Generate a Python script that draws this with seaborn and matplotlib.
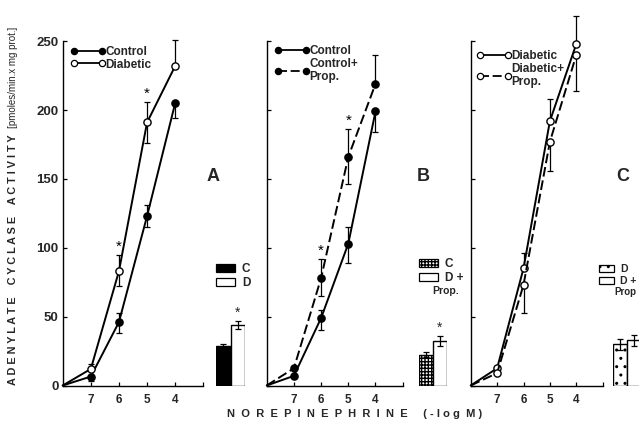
import numpy as np
import pandas as pd
import matplotlib
matplotlib.use("Agg")
import matplotlib.pyplot as plt
from matplotlib.lines import Line2D
from matplotlib.patches import Patch
import seaborn as sns

# ---------------- data ----------------
log_conc = [8, 7, 6, 5, 4]          # -log M ; 8 = no agonist (origin)
x_ticks = [7, 6, 5, 4, 3]
x_ticklabels = ["7", "6", "5", "4", ""]
y_ticks = [0, 50, 100, 150, 200, 250]

# Panel A
a_control = [0, 6.5, 46, 123, 205]
a_control_hi = [0, 0, 6.5, 8, 0]
a_control_lo = [0, 3, 8, 8, 11]
a_diabetic = [0, 12, 83, 191, 232]
a_diabetic_hi = [0, 3.5, 12, 15, 19]
a_diabetic_lo = [0, 0, 11, 15, 0]
a_sig = [False, False, True, True, False]

# Panel B
b_control = [0, 7, 49, 103, 199]
b_control_hi = [0, 0, 6, 12, 0]
b_control_lo = [0, 0, 9, 14, 15]
b_cprop = [0, 12.5, 78, 166, 219]
b_cprop_hi = [0, 0, 14, 20, 21]
b_cprop_lo = [0, 0, 13, 20, 0]
b_sig = [False, False, True, True, False]

# Panel C
c_diabetic = [0, 12.5, 85, 192, 248]
c_diabetic_hi = [0, 0, 11, 16, 20]
c_diabetic_lo = [0, 0, 0, 0, 0]
c_dprop = [0, 9, 73, 177, 240]
c_dprop_hi = [0, 0, 0, 0, 0]
c_dprop_lo = [0, 0, 20, 21, 26]

# Basal activity bars
a_bar_cats = ["C", "D"]
a_bar_vals = [29, 44]
a_bar_err = [1, 3]
a_bar_sig = [False, True]
b_bar_cats = ["C", "D +"]
b_bar_vals = [22.5, 32.5]
b_bar_err = [1.5, 3.5]
b_bar_sig = [False, True]
c_bar_cats = ["D", "D +"]
c_bar_vals = [30, 33]
c_bar_err = [4, 4]
c_bar_sig = [False, False]

# ---------------- style ----------------
sns.set_style("ticks")
plt.rcParams["font.family"] = ["Liberation Sans", "DejaVu Sans"]
plt.rcParams["hatch.linewidth"] = 1.0

W, H = 639, 422
fig = plt.figure(figsize=(W / 100, H / 100), dpi=100)
fig.patch.set_facecolor("white")

Y0, YTOP = 385.5, 41.2


def rect(left_px, right_px):
    return [left_px / W, 1 - Y0 / H, (right_px - left_px) / W, (Y0 - YTOP) / H]


DASH = (0, (5, 2))


def draw_series(ax, y, lo, hi, filled, dashed):
    xs = np.array(log_conc, dtype=float)
    ys = np.array(y, dtype=float)
    sns.lineplot(x=xs, y=ys, ax=ax, sort=False, color="black", lw=1.4,
                 linestyle=DASH if dashed else "-",
                 marker="o", markevery=[1, 2, 3, 4], markersize=5.2,
                 markerfacecolor="black" if filled else "white",
                 markeredgecolor="black", markeredgewidth=1.0,
                 clip_on=False, zorder=3)
    lo = np.array(lo, dtype=float)
    hi = np.array(hi, dtype=float)
    m = hi > 0
    if m.any():
        ax.errorbar(xs[m], ys[m], yerr=[np.zeros(m.sum()), hi[m]], fmt="none",
                    ecolor="black", elinewidth=0.9, capsize=2.5, capthick=0.9,
                    clip_on=False, zorder=1)
    m = lo > 0
    if m.any():
        ax.errorbar(xs[m], ys[m], yerr=[lo[m], np.zeros(m.sum())], fmt="none",
                    ecolor="black", elinewidth=0.9, capsize=2.5, capthick=0.9,
                    clip_on=False, zorder=1)


def draw_sig(ax, y, hi, sig):
    for xv, yv, h, s in zip(log_conc, y, hi, sig):
        if s:
            ax.text(xv, yv + h + 1, "*", ha="center", va="bottom",
                    fontsize=11, color="black")


def style_axes(ax, show_ylabels):
    ax.set_xlim(8, 3)
    ax.set_ylim(0, 250)
    ax.set_xticks(x_ticks)
    ax.set_xticklabels(x_ticklabels, fontsize=8.5, fontweight="bold")
    ax.set_yticks(y_ticks)
    if show_ylabels:
        ax.set_yticklabels([str(v) for v in y_ticks], fontsize=9.5, fontweight="bold")
    else:
        ax.set_yticklabels([])
    ax.tick_params(axis="both", direction="in", length=3, width=0.9, color="black")
    ax.tick_params(axis="x", pad=6)
    ax.tick_params(axis="y", pad=3)
    for s in ["top", "right"]:
        ax.spines[s].set_visible(False)
    for s in ["left", "bottom"]:
        ax.spines[s].set_linewidth(1.0)
        ax.spines[s].set_color("black")
    ax.set_facecolor("white")
    ax.set_xlabel("")
    ax.set_ylabel("")


def line_legend(ax, specs, labels, x_px, y_px):
    handles = []
    for filled, dashed in specs:
        handles.append(Line2D([0], [0], color="black", lw=1.3,
                              linestyle=DASH if dashed else "-", marker="o",
                              markersize=4.5, markeredgewidth=0.9,
                              markerfacecolor="black" if filled else "white",
                              markeredgecolor="black"))
    leg = ax.legend(handles, labels, numpoints=2, frameon=False,
                    loc="upper left", bbox_to_anchor=(x_px / W, 1 - y_px / H),
                    bbox_transform=fig.transFigure, handlelength=3.0,
                    handletextpad=0.0, labelspacing=0.05, borderpad=0,
                    borderaxespad=0,
                    prop={"size": 8.5, "weight": "bold"})
    return leg


def draw_bars(left_px, right_px, cats, vals, errs, sig, faces, hatches):
    bax = fig.add_axes(rect(left_px, right_px))
    df = pd.DataFrame({"cat": cats, "val": vals})
    sns.barplot(data=df, x="cat", y="val", hue="cat", palette=faces,
                legend=False, width=1.0, edgecolor="black", linewidth=1.0,
                saturation=1, ax=bax, errorbar=None)
    for p, h in zip(bax.patches, hatches):
        p.set_hatch(h)
    bax.errorbar([0, 1], vals, yerr=errs, fmt="none", ecolor="black",
                 elinewidth=0.9, capsize=2.5, capthick=0.9, zorder=4)
    for i, (v, e, s) in enumerate(zip(vals, errs, sig)):
        if s:
            bax.text(i, v + e + 1, "*", ha="center", va="bottom", fontsize=10)
    bax.set_xlim(-0.5, 1.5)
    bax.set_ylim(0, 250)
    bax.axis("off")
    return bax


def bar_legend(cats, faces, hatches, x_px, y_px, size=8.5, hl=1.6):
    handles = [Patch(facecolor=f, edgecolor="black", hatch=h, linewidth=0.9)
               for f, h in zip(faces, hatches)]
    fig.legend(handles, cats, frameon=False, loc="upper left",
               bbox_to_anchor=(x_px / W, 1 - y_px / H), handlelength=hl,
               handleheight=0.6, handletextpad=0.6, labelspacing=0.2,
               borderpad=0, borderaxespad=0,
               prop={"size": size, "weight": "bold"})


# ---------------- Panel A ----------------
axA = fig.add_axes(rect(62.7, 203.3))
draw_series(axA, a_control, a_control_lo, a_control_hi, True, False)
draw_series(axA, a_diabetic, a_diabetic_lo, a_diabetic_hi, False, False)
draw_sig(axA, a_diabetic, a_diabetic_hi, a_sig)
style_axes(axA, True)
line_legend(axA, [(True, False), (False, False)], ["Control", "Diabetic"], 70, 46)

# ---------------- Panel B ----------------
axB = fig.add_axes(rect(266.7, 402.7))
draw_series(axB, b_control, b_control_lo, b_control_hi, True, False)
draw_series(axB, b_cprop, b_cprop_lo, b_cprop_hi, True, True)
draw_sig(axB, b_cprop, b_cprop_hi, b_sig)
style_axes(axB, False)
line_legend(axB, [(True, False), (True, True)], ["Control", "Control+\nProp."], 274, 45)

# ---------------- Panel C ----------------
axC = fig.add_axes(rect(470.7, 602.7))
draw_series(axC, c_diabetic, c_diabetic_lo, c_diabetic_hi, False, False)
draw_series(axC, c_dprop, c_dprop_lo, c_dprop_hi, False, True)
style_axes(axC, False)
line_legend(axC, [(False, False), (False, True)], ["Diabetic", "Diabetic+\nProp."], 476, 50)

# ---------------- bars ----------------
a_faces = ["black", "white"]
a_hatch = ["", ""]
draw_bars(216, 245, a_bar_cats, a_bar_vals, a_bar_err, a_bar_sig, a_faces, a_hatch)
bar_legend(a_bar_cats, a_faces, a_hatch, 216, 263)

b_faces = ["white", "white"]
b_hatch = ["+++++", ""]
draw_bars(419, 447, b_bar_cats, b_bar_vals, b_bar_err, b_bar_sig, b_faces, b_hatch)
bar_legend(b_bar_cats, b_faces, b_hatch, 419, 258)
fig.text(446 / W, 1 - 291 / H, "Prop.", ha="center", va="center",
         fontsize=7.5, fontweight="bold")

c_faces = ["white", "white"]
c_hatch = ["..", ""]
draw_bars(612.7, 641, c_bar_cats, c_bar_vals, c_bar_err, c_bar_sig, c_faces, c_hatch)
bar_legend(c_bar_cats, c_faces, c_hatch, 599, 264, size=7.5, hl=1.4)
fig.text(614 / W, 1 - 292 / H, "Prop", ha="left", va="center",
         fontsize=7, fontweight="bold")

# ---------------- panel letters ----------------
for letter, xp in [("A", 213), ("B", 423), ("C", 623)]:
    fig.text(xp / W, 1 - 177 / H, letter, ha="center", va="center",
             fontsize=13, fontweight="bold",
             family=["Liberation Sans Narrow", "Liberation Sans", "DejaVu Sans"])

# ---------------- axis titles ----------------
fig.text(13 / W, 1 - 260 / H, "A D E N Y L A T E    C Y C L A S E    A C T I V I T Y",
         rotation=90, ha="center", va="center", fontsize=7.8, fontweight="bold")
fig.text(13 / W, 1 - 77 / H, "[pmoles/min.x mg prot.]", rotation=90,
         ha="center", va="center", fontsize=7)
fig.text(355 / W, 1 - 414 / H, "N  O  R  E  P  I  N  E  P  H  R  I  N  E     ( - l o g  M )",
         ha="center", va="center", fontsize=8, fontweight="bold")

fig.savefig("out.png", dpi=100, facecolor="white")
